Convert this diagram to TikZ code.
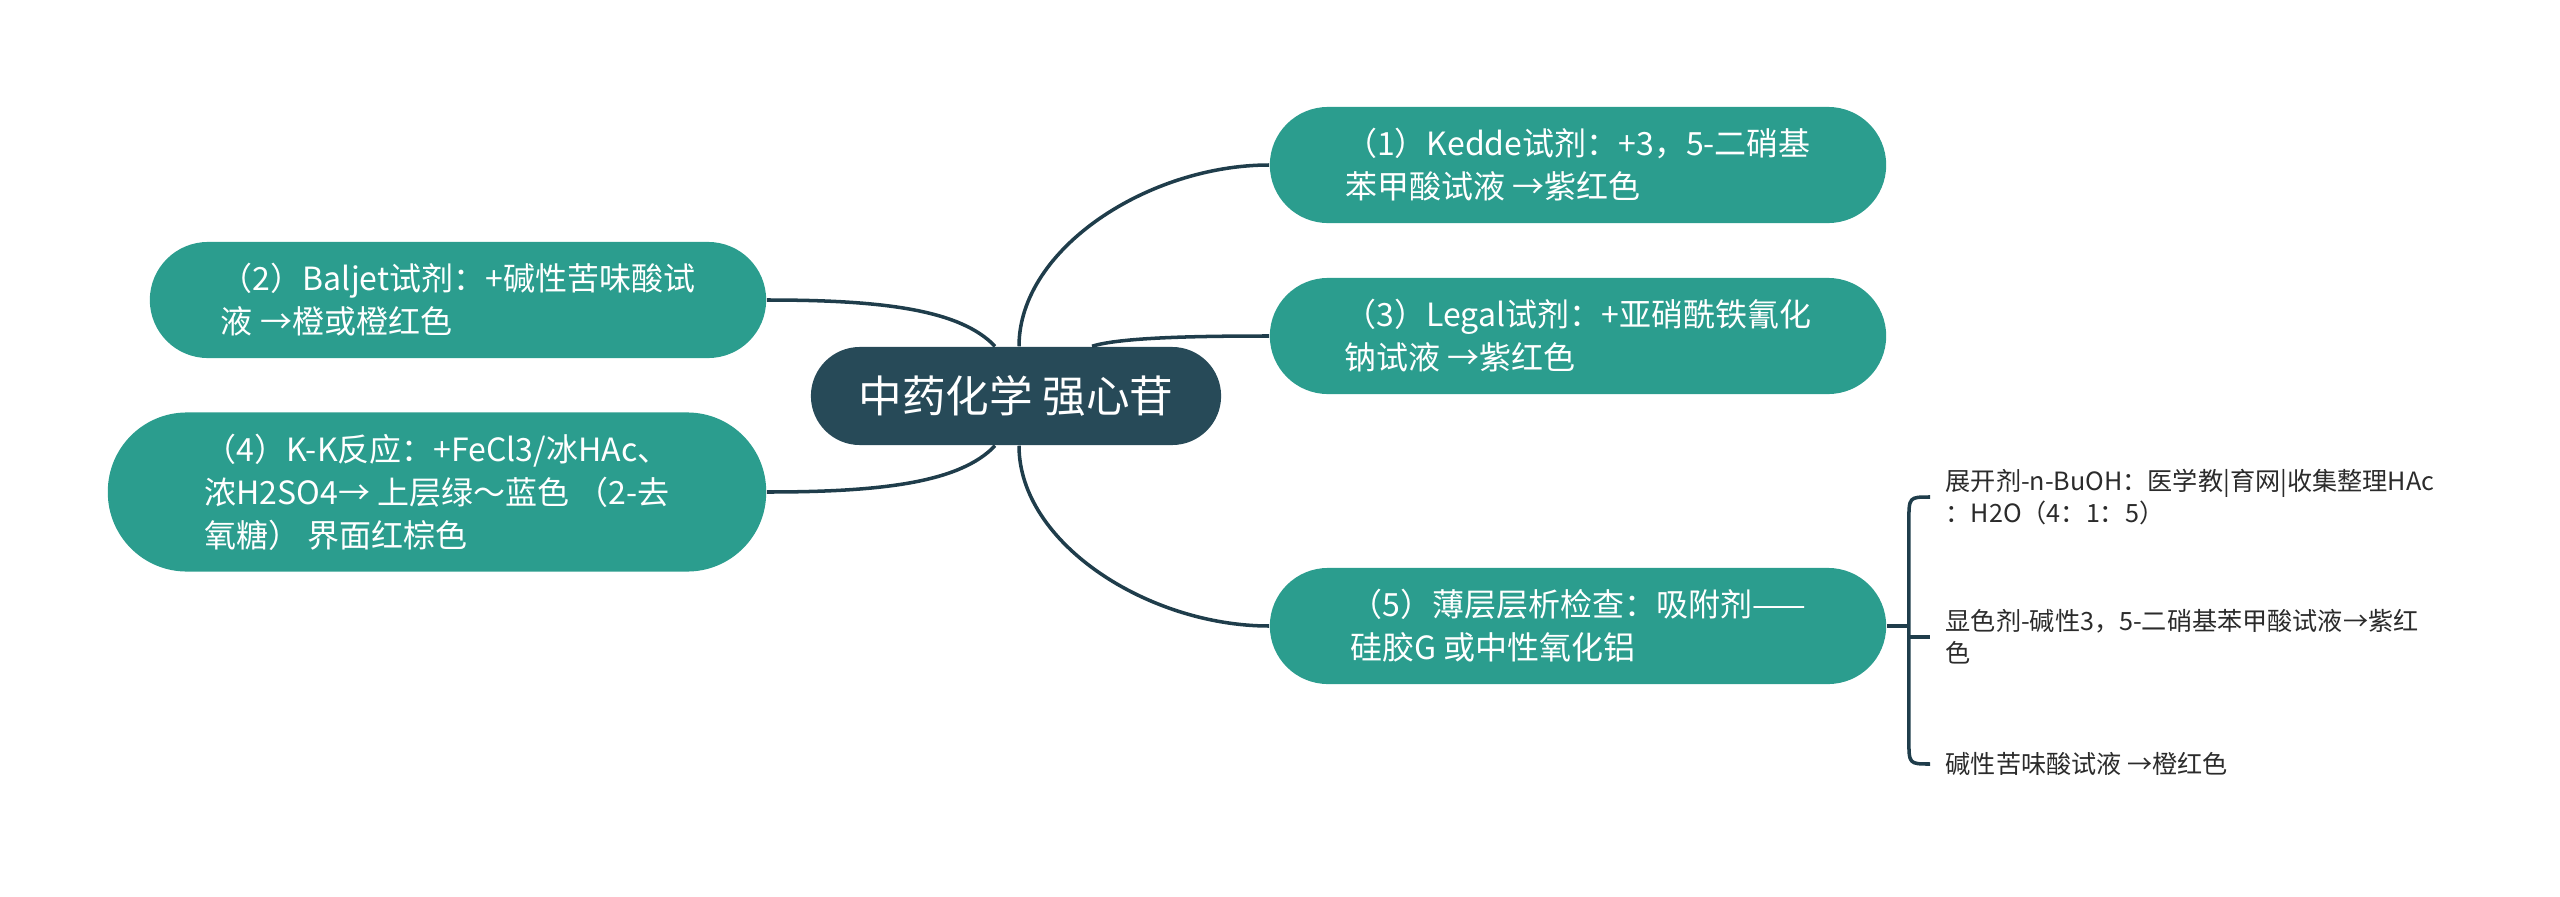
\documentclass[tikz,border=0pt]{standalone}
\usepackage{fontspec}
\setmainfont{Noto Sans CJK SC}
\usetikzlibrary{calc}
\definecolor{topicgreen}{HTML}{2B9D8E}
\definecolor{rootslate}{HTML}{274A58}
\definecolor{branchcol}{HTML}{1F3D4B}
\definecolor{leaftext}{HTML}{2B2B2B}

\begin{document}
\begin{tikzpicture}[x=0.01cm, y=-0.01cm,
  central/.style={rectangle, rounded corners=0.49cm, fill=rootslate, text=white, minimum width=4.1cm, minimum height=0.98cm, font=\fontsize{12.4}{15}\selectfont},
  topic/.style={rectangle, rounded corners=0.58cm, fill=topicgreen, text=white, align=left, minimum width=6.16cm, minimum height=1.16cm, font=\fontsize{9.1}{12.2}\selectfont},
  leaf/.style={inner xsep=0.15cm, inner ysep=0pt, text=leaftext, align=left, font=\fontsize{7.15}{9.1}\selectfont},
  branch/.style={draw=branchcol, line width=1pt}]
\useasboundingbox (0,0) rectangle (2560,897);

\node[central] (root) at (1016,396) {中药化学 强心苷};

\node[topic] (n1) at (1578,165) {（1）Kedde试剂：+3，5-二硝基\\苯甲酸试液 →紫红色};
\node[topic] (n3) at (1578,336) {（3）Legal试剂：+亚硝酰铁氰化\\钠试液 →紫红色};
\node[topic] (n5) at (1578,626) {（5）薄层层析检查：吸附剂——\\硅胶G 或中性氧化铝};
\node[topic] (n2) at (458,300) {（2）Baljet试剂：+碱性苦味酸试\\液 →橙或橙红色};
\node[topic, rounded corners=0.79cm, minimum width=6.58cm, minimum height=1.59cm] (n4) at (437,492) {（4）K-K反应：+FeCl3/冰HAc、\\浓H2SO4→ 上层绿～蓝色 （2-去\\氧糖） 界面红棕色};

\node[leaf, anchor=west] (leafa) at (1930,497) {展开剂-n-BuOH：医学教|育网|收集整理HAc\\：H2O（4：1：5）};
\node[leaf, anchor=west] (leafb) at (1930,637) {显色剂-碱性3，5-二硝基苯甲酸试液→紫红\\色};
\node[leaf, anchor=west] (leafc) at (1930,764) {碱性苦味酸试液 →橙红色};

\draw[branch] ([xshift=0.03cm]root.north) .. controls +(0,-98) and +(-120,0) .. (n1.west);
\draw[branch] ([xshift=0.76cm]root.north) .. controls +(28,-9) and +(-70,0) .. (n3.west);
\draw[branch] ([xshift=0.03cm]root.south) .. controls +(0,98) and +(-120,0) .. (n5.west);
\draw[branch] ([xshift=-0.21cm]root.north) .. controls +(-35,-37) and +(114,0) .. (n2.east);
\draw[branch] ([xshift=-0.21cm]root.south) .. controls +(-35,37) and +(114,0) .. (n4.east);

\coordinate (fork) at ($(n5.east)+(22,0)$);
\draw[branch] (n5.east) -- (fork);
\draw[branch] (leafa.west) .. controls (fork |- leafa.west) .. ($(fork |- leafa.west)+(0,25)$)
  -- ($(fork |- leafc.west)+(0,-25)$) .. controls (fork |- leafc.west) .. (leafc.west);
\draw[branch] (fork |- leafb.west) -- (leafb.west);
\end{tikzpicture}
\end{document}
